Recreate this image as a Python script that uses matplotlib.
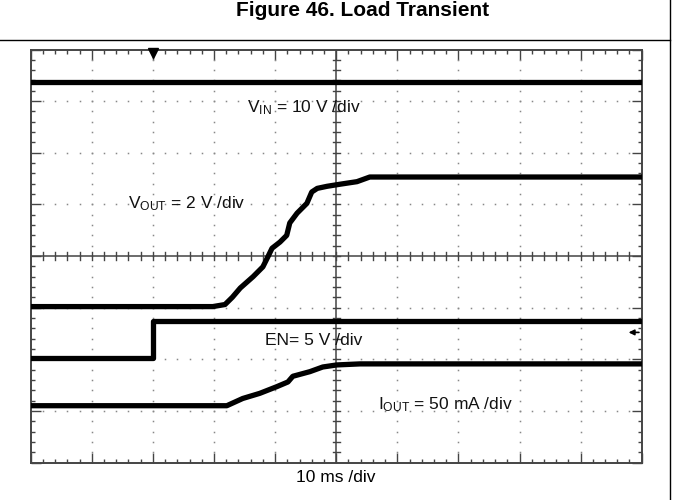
import matplotlib
matplotlib.use("Agg")
import matplotlib.pyplot as plt
import numpy as np
from matplotlib.lines import Line2D

plt.rcParams['font.family'] = ['Liberation Sans', 'DejaVu Sans']
plt.rcParams['mathtext.fontset'] = 'custom'
plt.rcParams['mathtext.rm'] = 'Liberation Sans'
plt.rcParams['mathtext.it'] = 'Liberation Sans'

# ---- data (time in ms, levels in screen divisions) ----
vin_t = [0, 100]
vin_div = [7.37, 7.37]

vout_t = [0, 29.8, 31.8, 33.0, 34.3, 36.4, 38.0, 38.8, 39.5, 40.8, 41.9, 42.4,
          43.6, 45.2, 46.0, 46.9, 48.5, 50.6, 53.4, 55.5, 100]
vout_div = [3.02, 3.02, 3.06, 3.2, 3.38, 3.60, 3.79, 3.98, 4.15, 4.27, 4.40, 4.64,
            4.83, 5.02, 5.24, 5.31, 5.35, 5.39, 5.44, 5.53, 5.53]

en_t = [0, 20, 20, 100]
en_div = [2.02, 2.02, 2.745, 2.745]

iout_t = [0, 32.1, 34.7, 37.5, 40.3, 42.1, 42.9, 45.7, 47.8, 50.1, 53.9, 100]
iout_div = [1.10, 1.10, 1.24, 1.34, 1.47, 1.56, 1.67, 1.76, 1.85, 1.89, 1.91, 1.91]

trig_time = 20
trig_level = 2.52

labels = ['V$_{\\mathrm{IN}}$ = 10 V /div', 'V$_{\\mathrm{OUT}}$ = 2 V /div',
          'EN= 5 V /div', 'I$_{\\mathrm{OUT}}$ = 50 mA /div']
label_t = [35.4, 15.9, 38.3, 56.8]
label_y = [6.88, 5.02, 2.37, 1.13]

title = 'Figure 46. Load Transient'
xscale_label = '10 ms /div'

# ---- figure ----
W, H = 673, 500
fig = plt.figure(figsize=(W / 100, H / 100), dpi=100)
x0, x1, y0, y1 = 30.7, 641.7, 49.5, 462.5
ax = fig.add_axes([x0 / W, 1 - y1 / H, (x1 - x0) / W, (y1 - y0) / H])
ax.set_xlim(0, 100)
ax.set_ylim(0, 8)

gcol = '#444444'
for s in ax.spines.values():
    s.set_color(gcol)
    s.set_linewidth(1.4)

ax.set_xticks(np.arange(0, 101, 10))
ax.set_xticks(np.arange(0, 101, 2), minor=True)
ax.set_yticks(np.arange(0, 8.01, 1))
ax.set_yticks(np.arange(0, 8.01, 0.2), minor=True)
ax.tick_params(which='both', direction='in', top=True, right=True,
               labelbottom=False, labelleft=False, color=gcol, width=1.0)
ax.tick_params(which='major', length=7)
ax.tick_params(which='minor', length=3)

# dotted grid
for gx in range(10, 100, 10):
    if gx == 50:
        continue
    ys = np.arange(0.2, 8, 0.2)
    ax.plot([gx] * len(ys), ys, ls='none', marker='s', ms=1.1, color='#888888', mew=0)
for gy in range(1, 8):
    if gy == 4:
        continue
    xs = np.arange(2, 100, 2)
    ax.plot(xs, [gy] * len(xs), ls='none', marker='s', ms=1.1, color='#888888', mew=0)

# center cross with ticks
ax.axvline(50, color=gcol, lw=1.1)
ax.axhline(4, color=gcol, lw=1.1)
for yy in np.arange(0.2, 8, 0.2):
    ax.plot([49.4, 50.6], [yy, yy], color=gcol, lw=1.0)
for xx in np.arange(2, 100, 2):
    ax.plot([xx, xx], [3.93, 4.07], color=gcol, lw=1.0)

# traces
tr = dict(color='black', lw=3.8, solid_joinstyle='round', zorder=5)
ax.plot(vin_t, vin_div, **tr)
ax.plot(vout_t, vout_div, **tr)
ax.plot(en_t, en_div, color='black', lw=3.8, zorder=5)
ax.plot([en_t[1], en_t[2]], [en_div[1], en_div[2]], color='black', lw=1.2, zorder=5)
ax.plot(iout_t, iout_div, **tr)

# trigger markers
ax.plot([trig_time], [7.93], marker='v', ms=7, color='black', clip_on=False, zorder=6)
ax.annotate('', xy=(97.4, trig_level), xytext=(100, trig_level),
            arrowprops=dict(arrowstyle='-|>', color='black', lw=1.2, mutation_scale=8))

for s, tx, ty in zip(labels, label_t, label_y):
    ax.text(tx, ty, s, ha='left', va='center', fontsize=12.5, color='#111111', zorder=7)

fig.text(336 / W, 1 - 477 / H, xscale_label, ha='center', va='center', fontsize=12.5)
fig.text(363 / W, 1 - 11 / H, title, ha='center', va='center', fontsize=15, fontweight='bold')

fig.add_artist(Line2D([0, 670 / W], [1 - 39.5 / H] * 2, transform=fig.transFigure, color='black', lw=1.0))
fig.add_artist(Line2D([670 / W] * 2, [0, 1], transform=fig.transFigure, color='black', lw=1.0))

fig.savefig('out.png', dpi=100)
